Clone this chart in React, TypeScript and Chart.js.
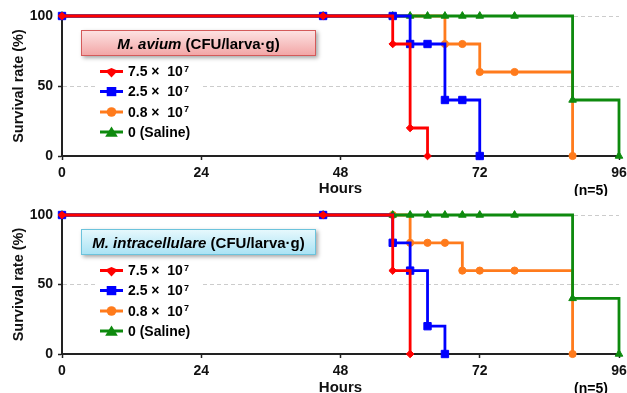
import React, { useEffect, useRef } from 'react';
import { Chart, registerables } from 'chart.js';

Chart.register(...registerables);

const FONT = "'Liberation Sans', Arial, Helvetica, sans-serif";

// ---- data ----
const hours = [0, 45, 57, 60, 63, 66, 69, 72, 78, 88, 96];
const xTickValues = [0, 24, 48, 72, 96];
const yTickValues = [0, 50, 100];

const seriesNames = ['7.5 ×  10', '2.5 ×  10', '0.8 ×  10', '0 (Saline)'];
const seriesSup = ['7', '7', '7', ''];
const seriesColors = ['#ff0000', '#0000ff', '#ff7b1c', '#0e8a0e'];
const seriesMarkers = ['rectRot', 'rect', 'circle', 'triangle'];
const markerRadii = [3.8, 5.2, 3.6, 4.4];
// drawing priority (lower = drawn on top): red, blue, green, orange
const seriesOrder = [0, 1, 3, 2];

// M. avium survival (%)  (null = no observation marker at that hour)
const aviumHigh = [100, 100, 80, 20, 0];
const aviumMid = [100, 100, 100, 80, 80, 40, 40, 0];
const aviumLow = [100, 100, null, null, null, 80, 80, 60, 60, 0];
const aviumSaline = [100, 100, 100, 100, 100, 100, 100, 100, 100, 40, 0];

// M. intracellulare survival (%)
const intraHigh = [100, 100, 60, 0];
const intraMid = [100, 100, 80, 60, 20, 0];
const intraLow = [100, 100, 100, 80, 80, 80, 60, 60, 60, 0];
const intraSaline = [100, 100, 100, 100, 100, 100, 100, 100, 100, 40, 0];

const unitText = ' (CFU/larva·g)';
const nText = '(n=5)';
const xTitle = 'Hours';
const yTitle = 'Survival rate (%)';

// ---- legend plugin ----
function drawMarker(ctx: CanvasRenderingContext2D, kind: string, x: number, y: number, color: string) {
  ctx.fillStyle = color;
  ctx.strokeStyle = color;
  ctx.lineWidth = 1;
  ctx.beginPath();
  if (kind === 'rect') {
    ctx.rect(x - 4.8, y - 4.5, 9.6, 9.2);
  } else if (kind === 'circle') {
    ctx.arc(x, y, 4.8, 0, Math.PI * 2);
  } else if (kind === 'triangle') {
    ctx.moveTo(x, y - 5.5);
    ctx.lineTo(x + 6.3, y + 4.8);
    ctx.lineTo(x - 6.3, y + 4.8);
    ctx.closePath();
  } else {
    ctx.moveTo(x, y - 3.5);
    ctx.lineTo(x + 6.3, y - 0.8);
    ctx.lineTo(x, y + 6);
    ctx.lineTo(x - 6.3, y - 0.8);
    ctx.closePath();
  }
  ctx.fill();
}

const boxLegendPlugin = {
  id: 'boxLegend',
  afterDatasetsDraw(chart: any, _args: any, opts: any) {
    const { ctx, chartArea } = chart;
    const left = chartArea.left;
    const top = chartArea.top;
    ctx.save();

    // white backing behind entries
    ctx.fillStyle = '#ffffff';
    ctx.fillRect(left + 35, top + 44, 104, 82);

    // title box
    const bx = left + 19;
    const by = top + 14;
    const bw = 235;
    const bh = 26;
    ctx.save();
    ctx.shadowColor = 'rgba(0,0,0,0.35)';
    ctx.shadowBlur = 4;
    ctx.shadowOffsetX = 2;
    ctx.shadowOffsetY = 2;
    const g = ctx.createLinearGradient(0, by, 0, by + bh);
    g.addColorStop(0, opts.fillTop);
    g.addColorStop(1, opts.fillBottom);
    ctx.fillStyle = g;
    ctx.fillRect(bx, by, bw, bh);
    ctx.restore();
    ctx.strokeStyle = opts.stroke;
    ctx.lineWidth = 1;
    ctx.strokeRect(bx + 0.5, by + 0.5, bw - 1, bh - 1);

    const italicFont = `italic bold 15px ${FONT}`;
    const boldFont = `bold 15px ${FONT}`;
    ctx.font = italicFont;
    const w1 = ctx.measureText(opts.title).width;
    ctx.font = boldFont;
    const w2 = ctx.measureText(unitText).width;
    const tx = bx + bw / 2 - (w1 + w2) / 2;
    ctx.fillStyle = '#000';
    ctx.textAlign = 'left';
    ctx.textBaseline = 'alphabetic';
    ctx.font = italicFont;
    ctx.fillText(opts.title, tx, by + 19);
    ctx.font = boldFont;
    ctx.fillText(unitText, tx + w1, by + 19);

    // entries
    const rowOffsets = [55.5, 75.5, 96, 116];
    seriesNames.forEach((name, i) => {
      const ry = top + rowOffsets[i];
      ctx.strokeStyle = seriesColors[i];
      ctx.lineWidth = 3;
      ctx.beginPath();
      ctx.moveTo(left + 38, ry);
      ctx.lineTo(left + 61, ry);
      ctx.stroke();
      drawMarker(ctx, seriesMarkers[i], left + 49.5, ry, seriesColors[i]);
      ctx.fillStyle = '#000';
      ctx.font = `bold 14px ${FONT}`;
      ctx.textAlign = 'left';
      ctx.textBaseline = 'alphabetic';
      ctx.fillText(name, left + 66, ry + 4.5);
      if (seriesSup[i]) {
        const w = ctx.measureText(name).width;
        ctx.font = `bold 9px ${FONT}`;
        ctx.fillText(seriesSup[i], left + 66 + w + 1, ry);
      }
    });

    // (n=5)
    ctx.fillStyle = '#000';
    ctx.font = `bold 14px ${FONT}`;
    ctx.textAlign = 'center';
    ctx.textBaseline = 'middle';
    ctx.fillText(nText, chartArea.right - 28, chartArea.bottom + 35);
    ctx.restore();
  },
};

type PanelProps = {
  title: string;
  values: (number | null)[][];
  fillTop: string;
  fillBottom: string;
  stroke: string;
  top: number;
  height: number;
  areaTop: number;
  areaBottom: number;
  titlePad: number;
};

function Panel(p: PanelProps) {
  const ref = useRef<HTMLCanvasElement>(null);
  useEffect(() => {
    const datasets = p.values.map((vals, i) => ({
      label: seriesNames[i] + seriesSup[i],
      data: vals.map((v, j) => ({ x: hours[j], y: v })),
      borderColor: seriesColors[i],
      backgroundColor: seriesColors[i],
      pointBackgroundColor: seriesColors[i],
      pointBorderColor: seriesColors[i],
      pointStyle: seriesMarkers[i],
      pointRadius: markerRadii[i],
      pointBorderWidth: 1,
      borderWidth: 2.8,
      stepped: 'before',
      spanGaps: true,
      fill: false,
      clip: false,
      order: seriesOrder[i],
    }));
    const tickFont = { family: FONT, size: 14, weight: 'bold' };
    const chart = new Chart(ref.current as HTMLCanvasElement, {
      type: 'line',
      data: { datasets } as any,
      plugins: [boxLegendPlugin],
      options: {
        animation: false,
        responsive: false,
        layout: { padding: { top: p.areaTop, right: 8, left: 0, bottom: 0 } },
        plugins: {
          legend: { display: false },
          tooltip: { enabled: false },
          boxLegend: { title: p.title, fillTop: p.fillTop, fillBottom: p.fillBottom, stroke: p.stroke },
        } as any,
        scales: {
          x: {
            type: 'linear',
            min: 0,
            max: 96,
            afterBuildTicks: (s: any) => {
              s.ticks = xTickValues.map((v) => ({ value: v }));
            },
            afterFit: (s: any) => {
              s.height = p.height - p.areaBottom;
              s.paddingLeft = 0;
              s.paddingRight = 0;
            },
            grid: { drawOnChartArea: false, drawTicks: true, tickLength: 4, tickColor: '#222', tickWidth: 1.5 },
            border: { display: true, color: '#222', width: 2 },
            ticks: { color: '#111', font: tickFont, padding: 5, maxRotation: 0, autoSkip: false },
            title: {
              display: true,
              text: xTitle,
              color: '#111',
              font: { family: FONT, size: 15, weight: 'bold', lineHeight: 1 },
              padding: { top: 0, bottom: p.titlePad },
            },
          },
          y: {
            type: 'linear',
            min: 0,
            max: 100,
            afterBuildTicks: (s: any) => {
              s.ticks = yTickValues.map((v) => ({ value: v }));
            },
            afterFit: (s: any) => {
              s.width = 62;
              s.paddingTop = 0;
              s.paddingBottom = 0;
            },
            grid: {
              color: (c: any) => (c.tick && c.tick.value === 0 ? 'rgba(0,0,0,0)' : '#cccccc'),
              lineWidth: 1,
              tickColor: '#222',
              tickLength: 4,
              tickWidth: 1.5,
            },
            border: { display: true, color: '#222', width: 2, dash: [4, 3] },
            ticks: { color: '#111', font: tickFont, padding: 5 },
            title: {
              display: true,
              text: yTitle,
              color: '#111',
              font: { family: FONT, size: 14.5, weight: 'bold' },
              padding: { top: 10, bottom: 0 },
            },
          },
        } as any,
      },
    } as any);
    return () => chart.destroy();
  }, []);
  return (
    <div style={{ position: 'absolute', left: 0, top: p.top, width: 627, height: p.height }}>
      <canvas ref={ref} width={627} height={p.height} style={{ display: 'block' }} />
    </div>
  );
}

export default function App() {
  return (
    <div
      style={{
        position: 'fixed',
        left: 0,
        top: 0,
        width: 627,
        height: 393,
        overflow: 'hidden',
        background: '#ffffff',
      }}
    >
      <Panel
        title="M. avium"
        values={[aviumHigh, aviumMid, aviumLow, aviumSaline]}
        fillTop="#fde4e4"
        fillBottom="#f2a4a4"
        stroke="#d45a5a"
        top={0}
        height={196}
        areaTop={16}
        areaBottom={156}
        titlePad={0}
      />
      <Panel
        title="M. intracellulare"
        values={[intraHigh, intraMid, intraLow, intraSaline]}
        fillTop="#e8f9fd"
        fillBottom="#a8e2f4"
        stroke="#6cc3dc"
        top={196}
        height={200}
        areaTop={19}
        areaBottom={158}
        titlePad={1}
      />
    </div>
  );
}
